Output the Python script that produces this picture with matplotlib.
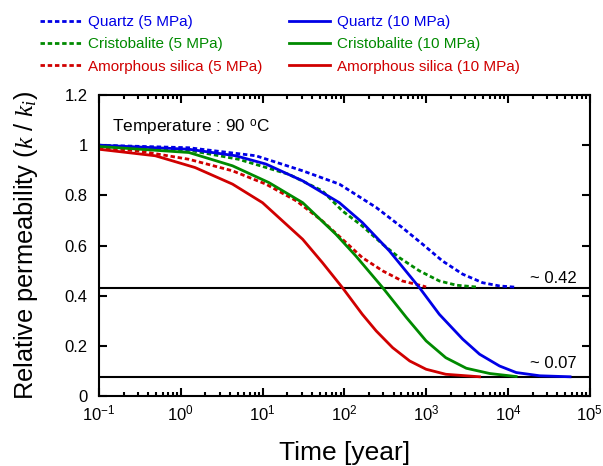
import numpy as np
import matplotlib
matplotlib.use('Agg')
import matplotlib.pyplot as plt
from matplotlib.ticker import LogLocator, NullFormatter

plt.rcParams['font.family'] = ['Liberation Sans', 'DejaVu Sans']
plt.rcParams['mathtext.fontset'] = 'custom'
plt.rcParams['mathtext.rm'] = 'Liberation Sans'
plt.rcParams['mathtext.it'] = 'Liberation Serif:italic'

# 시간 [year] / 상대 투수율
t_qz10 = [0.1, 1.26, 4.7, 11, 31, 87, 166, 355, 830, 1450, 2800, 4500, 7900, 12600, 24500, 57500]
k_qz10 = [1.0, 0.984, 0.958, 0.925, 0.858, 0.771, 0.692, 0.579, 0.432, 0.326, 0.227, 0.167, 0.120, 0.094, 0.081, 0.077]

t_cr10 = [0.1, 1.26, 4.3, 12, 31, 79, 138, 295, 575, 1000, 1740, 3100, 6000, 12600]
k_cr10 = [0.995, 0.971, 0.918, 0.851, 0.771, 0.645, 0.559, 0.432, 0.313, 0.220, 0.153, 0.111, 0.090, 0.078]

t_am10 = [0.1, 0.49, 1.5, 4.3, 10, 31, 54, 95, 166, 245, 390, 630, 1000, 1740, 4500]
k_am10 = [0.984, 0.958, 0.911, 0.845, 0.771, 0.625, 0.532, 0.432, 0.326, 0.260, 0.193, 0.140, 0.107, 0.087, 0.077]

t_qz5 = [0.1, 1.26, 8.3, 31, 87, 245, 510, 910, 1580, 2800, 4900, 7900, 12600]
k_qz5 = [1.0, 0.99, 0.958, 0.898, 0.845, 0.752, 0.672, 0.605, 0.539, 0.486, 0.452, 0.439, 0.434]

t_cr5 = [0.1, 1.26, 5.1, 21, 54, 95, 166, 295, 470, 830, 1450, 2350, 4100]
k_cr5 = [1.0, 0.98, 0.944, 0.884, 0.818, 0.738, 0.678, 0.605, 0.552, 0.499, 0.459, 0.442, 0.435]

t_am5 = [0.1, 0.31, 1.26, 4.3, 11, 26, 54, 95, 166, 295, 510, 910, 1000]
k_am5 = [0.991, 0.977, 0.944, 0.898, 0.845, 0.778, 0.698, 0.625, 0.552, 0.499, 0.459, 0.439, 0.435]

k_limit_5 = 0.43
k_limit_10 = 0.075

y_ticks = [0, 0.2, 0.4, 0.6, 0.8, 1.0, 1.2]
y_ticklabels = ['0', '0.2', '0.4', '0.6', '0.8', '1', '1.2']

blue = '#0000e6'
green = '#008a00'
red = '#d00000'

fig = plt.figure(figsize=(6.03, 4.66), dpi=100)
ax = fig.add_axes([0.164, 0.150, 0.814, 0.646])

dash = (0, (1.6, 1.0))
lw = 2.0
h1, = ax.plot(t_qz5, k_qz5, color=blue, lw=lw, linestyle=dash, label='Quartz (5 MPa)')
h2, = ax.plot(t_cr5, k_cr5, color=green, lw=lw, linestyle=dash, label='Cristobalite (5 MPa)')
h3, = ax.plot(t_am5, k_am5, color=red, lw=lw, linestyle=dash, label='Amorphous silica (5 MPa)')
h4, = ax.plot(t_qz10, k_qz10, color=blue, lw=lw, label='Quartz (10 MPa)')
h5, = ax.plot(t_cr10, k_cr10, color=green, lw=lw, label='Cristobalite (10 MPa)')
h6, = ax.plot(t_am10, k_am10, color=red, lw=lw, label='Amorphous silica (10 MPa)')

ax.axhline(k_limit_5, color='black', lw=1.5, zorder=1)
ax.axhline(k_limit_10, color='black', lw=1.5, zorder=1)

ax.text(0.973, 0.47, '~ 0.42', transform=ax.get_yaxis_transform(), ha='right', va='center', fontsize=12)
ax.text(0.973, 0.13, '~ 0.07', transform=ax.get_yaxis_transform(), ha='right', va='center', fontsize=12)
ax.text(0.026, 1.07, r'Temperature : 90 $^{\mathrm{o}}$C', transform=ax.get_yaxis_transform(),
        ha='left', va='center', fontsize=12.4)

ax.set_xscale('log')
ax.set_xlim(0.1, 1e5)
ax.set_ylim(0, 1.2)
ax.xaxis.set_major_locator(LogLocator(base=10, numticks=10))
ax.xaxis.set_minor_locator(LogLocator(base=10, subs=np.arange(2, 10), numticks=10))
ax.xaxis.set_minor_formatter(NullFormatter())
ax.set_yticks(y_ticks)
ax.set_yticklabels(y_ticklabels)
ax.tick_params(which='both', direction='in', top=True, right=True, labelsize=12, width=1.5)
ax.tick_params(which='major', length=6, pad=5)
ax.tick_params(which='minor', length=3)
ax.tick_params(axis='y', pad=8)
for s in ax.spines.values():
    s.set_linewidth(1.5)

ax.set_xlabel('Time [year]', fontsize=19, labelpad=13)
ax.set_ylabel(r'Relative permeability ($k$ / $k_{i}$)', fontsize=18.3, labelpad=18)

fig.legend(handles=[h1, h2, h3, h4, h5, h6], ncol=2, loc='upper left',
           bbox_to_anchor=(0.066, 0.968), frameon=False, fontsize=11,
           labelcolor='linecolor', handlelength=2.7, handletextpad=0.45,
           columnspacing=1.75, labelspacing=0.55, borderpad=0, borderaxespad=0)

fig.savefig('out.png', dpi=100)
